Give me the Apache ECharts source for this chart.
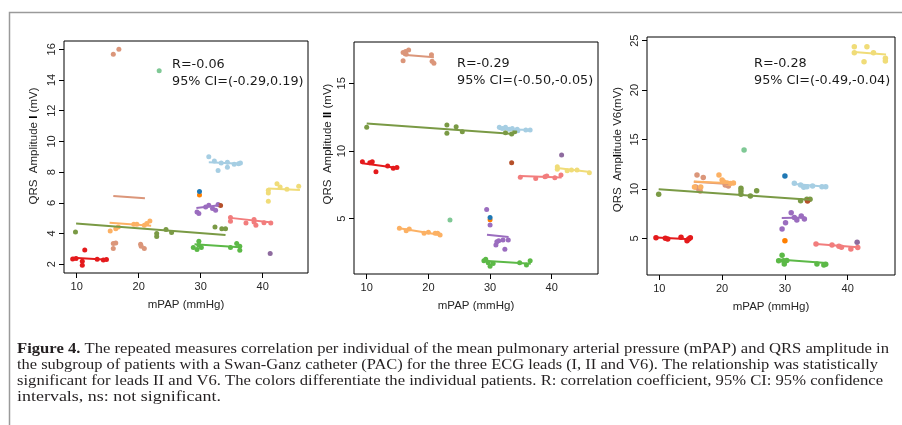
<!DOCTYPE html>
<html><head><meta charset="utf-8">
<script src="https://cdn.jsdelivr.net/npm/echarts@6/dist/echarts.min.js"></script>
<style>html,body{margin:0;padding:0;background:#fff}#c{width:902px;height:425px}</style>
</head><body><div id="c"></div><script>
// ---------------- DATA ----------------
const patients = ['P1','P2','P3','P4','P5','P6','P7','P8','P9','P10','P11','P12','P13','P14'];
const xTickValues = [10, 20, 30, 40];
const yTickValuesI = [2, 4, 6, 8, 10, 12, 14, 16];
const yTickValuesII = [5, 10, 15];
const yTickValuesV6 = [5, 10, 15, 20, 25];
const statLinesI = ['R=-0.06', '95% CI=(-0.29,0.19)'];
const statLinesII = ['R=-0.29', '95% CI=(-0.50,-0.05)'];
const statLinesV6 = ['R=-0.28', '95% CI=(-0.49,-0.04)'];

// points [mPAP, QRS] per patient (index follows `patients`)
const leadI = [
  [[9.35,2.34],[9.9,2.37],[10.9,2.2],[10.9,1.93],[11.3,2.92],[13.3,2.33],[14.3,2.28],[14.8,2.31]],
  [[15.9,15.67],[16.8,16.0],[15.9,3.35],[15.9,3.02],[16.3,3.39],[20.3,3.3],[20.9,3.02],[20.4,3.17]],
  [[15.4,4.17],[16.3,4.32],[16.7,4.43],[19.2,4.6],[19.7,4.6],[20.9,4.54],[21.3,4.65],[21.8,4.82]],
  [[29.8,6.51]],
  [[31.3,9.0],[32.2,8.72],[32.8,8.1],[33.3,8.6],[34.3,8.65],[34.3,8.32],[35.4,8.52],[36.1,8.55],[36.4,8.6]],
  [[29.8,6.73]],
  [[28.8,3.09],[29.4,2.96],[29.7,3.5],[29.7,3.24],[30.1,3.09],[34.8,3.09],[35.8,3.35],[36.3,3.17],[36.3,2.91]],
  [[9.8,4.1],[22.9,4.0],[22.9,3.8],[24.4,4.26],[25.3,4.06],[32.3,4.43],[33.4,4.32],[34.0,4.32]],
  [[23.3,14.6]],
  [[29.4,5.4],[29.7,5.3],[30.8,5.73],[31.3,5.84],[31.9,5.63],[32.4,5.52],[32.8,5.89]],
  [[41.2,2.7]],
  [[34.8,5.04],[34.8,4.8],[37.3,4.69],[38.6,4.91],[38.6,4.75],[38.9,4.54],[40.2,4.71],[41.3,4.69]],
  [[40.9,6.82],[40.9,6.64],[40.9,6.1],[42.3,7.25],[42.8,7.03],[43.9,6.88],[45.8,7.08]],
  [[33.2,5.82]]
];
const leadII = [
  [[9.3,9.21],[10.5,9.14],[10.9,9.21],[11.5,8.47],[13.4,8.89],[14.3,8.72],[14.9,8.79]],
  [[15.9,17.27],[15.9,16.67],[16.3,17.34],[16.8,17.46],[16.4,17.15],[20.5,17.1],[20.6,16.62],[20.9,16.48]],
  [[15.3,4.29],[16.4,4.11],[16.9,4.24],[19.3,3.92],[20.0,4.0],[21.1,3.92],[21.5,3.92],[21.9,3.8]],
  [[30.0,4.92]],
  [[31.5,11.75],[32.0,11.67],[32.5,11.75],[33.1,11.6],[33.6,11.67],[34.4,11.6],[34.5,11.5],[35.8,11.55],[36.5,11.55]],
  [[30.0,5.1]],
  [[29.0,1.9],[29.3,2.0],[29.7,1.75],[30.0,1.5],[30.5,1.7],[34.8,1.75],[35.9,1.58],[36.5,1.9]],
  [[10.0,11.75],[23.0,11.92],[23.0,11.31],[24.5,11.8],[25.5,11.43],[32.5,11.35],[33.5,11.26],[34.0,11.43]],
  [[23.5,4.9]],
  [[29.45,5.69],[30.0,4.53],[30.95,3.06],[31.1,3.3],[31.4,3.37],[32.1,3.43],[32.95,3.43],[32.4,2.74]],
  [[41.6,9.7]],
  [[34.9,8.06],[37.4,7.98],[38.9,8.1],[39.2,8.15],[40.5,8.03],[41.5,8.23]],
  [[40.9,8.84],[40.9,8.65],[42.5,8.55],[43.2,8.6],[44.1,8.6],[46.1,8.4]],
  [[33.5,9.14]]
];
const leadV6 = [
  [[9.47,5.06],[10.96,5.0],[11.34,4.93],[13.46,5.1],[14.41,4.76],[14.94,5.06],[14.68,4.93]],
  [[16.0,11.4],[17.0,11.15],[15.8,10.2],[16.3,9.95],[16.5,9.8],[21.0,10.3],[20.5,10.4]],
  [[15.6,10.2],[16.6,10.2],[19.5,11.4],[20.0,10.9],[20.3,10.7],[20.8,10.6],[21.3,10.55],[21.8,10.6]],
  [[30.0,4.76]],
  [[31.5,10.57],[32.5,10.39],[33.0,10.16],[33.5,10.22],[34.4,10.29],[35.9,10.22],[36.5,10.22]],
  [[30.0,11.31]],
  [[29.55,3.28],[29.0,2.73],[29.8,2.73],[29.9,2.4],[30.3,2.75],[35.1,2.4],[36.2,2.3],[36.5,2.37]],
  [[9.9,9.45],[23.0,10.06],[23.0,9.79],[23.0,9.45],[24.5,9.28],[25.5,9.82],[32.5,8.81],[33.5,8.95],[34.0,8.95]],
  [[23.5,13.94]],
  [[31.0,7.59],[30.1,6.58],[29.55,5.94],[31.5,7.12],[31.9,6.85],[32.6,7.26],[33.1,6.95]],
  [[41.5,4.6]],
  [[34.95,4.42],[37.5,4.32],[38.6,4.2],[39.0,4.1],[40.5,3.91],[41.6,4.08]],
  [[41.05,24.39],[41.05,23.78],[42.6,22.87],[43.06,24.39],[44.1,23.78],[46.0,23.21],[46.0,22.94]],
  [[33.6,8.78]]
];
// per-patient repeated-measures fit lines [[x1,y1],[x2,y2]] (null = single observation)
const fitI = [
  [[9.4,2.42],[15.0,2.3]], [[15.9,6.45],[21.0,6.3]], [[15.3,4.7],[22.0,4.5]], null,
  [[31.3,8.65],[36.5,8.55]], null, [[29.0,3.3],[36.3,3.1]], [[9.9,4.65],[34.0,3.9]], null,
  [[29.3,5.67],[33.0,5.84]], null, [[34.8,5.02],[41.5,4.72]], [[40.9,6.93],[46.0,6.83]], null
];
const fitII = [
  [[9.3,9.1],[15.0,8.75]], [[15.9,17.1],[20.9,16.92]], [[15.3,4.29],[22.0,3.8]], null,
  [[31.4,11.62],[36.6,11.55]], null, [[29.0,1.9],[36.6,1.68]], [[10.0,12.04],[33.9,11.26]], null,
  [[29.5,3.82],[33.0,3.66]], null, [[34.9,8.15],[41.6,8.05]], [[40.9,8.75],[46.2,8.45]], null
];
const fitV6 = [
  [[9.5,5.08],[15.0,4.9]], [[15.5,10.73],[21.0,10.5]], [[15.5,10.75],[22.2,10.55]], null,
  [[31.5,10.5],[36.6,10.23]], null, [[29.0,2.87],[36.6,2.5]], [[9.9,9.97],[34.0,8.9]], null,
  [[29.5,7.05],[33.2,7.1]], null, [[35.0,4.43],[41.6,4.1]], [[41.0,23.85],[46.1,23.6]], null
];
const captionLines = [
  ['Figure 4.', ' The repeated measures correlation per individual of the mean pulmonary arterial pressure (mPAP) and QRS amplitude in'],
  ['', 'the subgroup of patients with a Swan-Ganz catheter (PAC) for the three ECG leads (I, II and V6). The relationship was statistically'],
  ['', 'significant for leads II and V6. The colors differentiate the individual patients. R: correlation coefficient, 95% CI: 95% confidence'],
  ['', 'intervals, ns: not significant.']
];

// ---------------- STYLE / LAYOUT ----------------
const patientColors = ['#E41A1C','#DB967A','#FCB164','#FF7F00','#A6CEE3','#1F78B4','#5CB947','#7A9A45','#7FC895','#9B6DBF','#8E6B9F','#F27D7D','#F0DC78','#B5502A'];
const panels = [
  {pts: leadI, fit: fitI, yTicks: yTickValuesI, stats: statLinesI,
   grid:{left:64, top:41, width:244, height:232}, x:[7.95,47.3], y:[1.43,16.54], sym:5,
   ylab:'{n|QRS  Amplitude }{b|I}{n| (mV)}', ylabPos:[34,146], xlabPos:[186,305], statPos:[172,65]},
  {pts: leadII, fit: fitII, yTicks: yTickValuesII, stats: statLinesII,
   grid:{left:354, top:42, width:244, height:232}, x:[7.94,47.5], y:[0.92,18.05], sym:5,
   ylab:'{n|QRS  Amp}{b|l}{n|itude }{b|II}{n| (mV)}', ylabPos:[328,144], xlabPos:[476,306], statPos:[457,64]},
  {pts: leadV6, fit: fitV6, yTicks: yTickValuesV6, stats: statLinesV6,
   grid:{left:647, top:37, width:248, height:238}, x:[8.04,47.53], y:[1.29,25.37], sym:5.5,
   ylab:'{n|QRS  Amp}{b|l}{n|itude V6(mV)}', ylabPos:[618,149.5], xlabPos:[771,307], statPos:[754,64]}
];
const axisFont = '"Liberation Sans", Arial, sans-serif';
const txtColor = '#262626';

const grids = [], xAxes = [], yAxes = [], series = [], graphics = [];
panels.forEach((p, g) => {
  grids.push(Object.assign({show:true, borderColor:'#000', borderWidth:1, backgroundColor:'transparent'}, p.grid));
  xAxes.push({type:'value', gridIndex:g, min:p.x[0], max:p.x[1],
    axisLine:{show:false}, splitLine:{show:false},
    axisTick:{show:true, length:5, lineStyle:{color:'#000'}, customValues:xTickValues},
    axisLabel:{customValues:xTickValues, margin:8, color:txtColor, fontSize:11, fontFamily:axisFont}});
  yAxes.push({type:'value', gridIndex:g, min:p.y[0], max:p.y[1],
    axisLine:{show:false}, splitLine:{show:false},
    axisTick:{show:true, length:5, lineStyle:{color:'#000'}, customValues:p.yTicks},
    axisLabel:{customValues:p.yTicks, rotate:90, margin:7, color:txtColor, fontSize:11, fontFamily:axisFont}});
  p.pts.forEach((pts, i) => {
    series.push({type:'scatter', name:patients[i], xAxisIndex:g, yAxisIndex:g, data:pts,
      symbol:'circle', symbolSize:p.sym, itemStyle:{color:patientColors[i], opacity:1}, silent:true});
    if (p.fit[i]) {
      series.push({type:'line', name:patients[i]+' fit', xAxisIndex:g, yAxisIndex:g, data:p.fit[i],
        showSymbol:false, symbol:'none', lineStyle:{color:patientColors[i], width:2}, silent:true, z:3});
    }
  });
  graphics.push({type:'text', x:p.ylabPos[0], y:p.ylabPos[1], rotation:Math.PI/2,
    style:{text:p.ylab, align:'center', verticalAlign:'middle', textAlign:'center', textVerticalAlign:'middle',
      rich:{n:{fontSize:11.5, fontFamily:axisFont, fill:txtColor, color:txtColor},
            b:{fontSize:11.5, fontFamily:axisFont, fontWeight:'bold', fill:'#000', color:'#000'}}}});
  graphics.push({type:'text', x:p.xlabPos[0], y:p.xlabPos[1],
    style:{text:'mPAP (mmHg)', font:'11.5px ' + axisFont, fill:txtColor, align:'center', verticalAlign:'middle', textAlign:'center', textVerticalAlign:'middle'}});
  p.stats.forEach((s, k) => {
    graphics.push({type:'text', x:p.statPos[0], y:p.statPos[1] + k*17,
      style:{text:s, font:'12.8px "DejaVu Sans", Verdana, sans-serif', fill:'#1a1a1a', align:'left', verticalAlign:'middle', textAlign:'left', textVerticalAlign:'middle'}});
  });
});

// frame
graphics.push({type:'polyline', shape:{points:[[9.5,425],[9.5,12.5],[902,12.5]]},
  style:{stroke:'#9a9a9a', lineWidth:1.5, fill:null}});

// caption
const capFont = '"Liberation Serif", "Times New Roman", serif';
const capSize = 15.5;
const capTargets = [872, 861, 866, 204];
const capY = [349, 365, 381, 397];
const mctx = document.createElement('canvas').getContext('2d');
function tw(font, s){ mctx.font = font; return mctx.measureText(s).width; }
captionLines.forEach((ln, k) => {
  const wb = ln[0] ? tw('bold ' + capSize + 'px ' + capFont, ln[0]) : 0;
  const wr = tw(capSize + 'px ' + capFont, ln[1]);
  const sx = capTargets[k] / (wb + wr);
  graphics.push({type:'text', x:17, y:capY[k], scaleX:sx, originX:0, originY:0,
    style:{text:(ln[0] ? '{b|' + ln[0] + '}' : '') + '{r|' + ln[1] + '}',
      align:'left', verticalAlign:'middle', textAlign:'left', textVerticalAlign:'middle',
      rich:{b:{fontSize:capSize, fontFamily:capFont, fontWeight:'bold', fill:'#231f20', color:'#231f20'},
            r:{fontSize:capSize, fontFamily:capFont, fill:'#231f20', color:'#231f20'}}}});
});

const chart = echarts.init(document.getElementById('c'), null, {renderer:'canvas'});
chart.setOption({animation:false, backgroundColor:'#fff', grid:grids, xAxis:xAxes, yAxis:yAxes, series:series, graphic:graphics});
</script></body></html>
